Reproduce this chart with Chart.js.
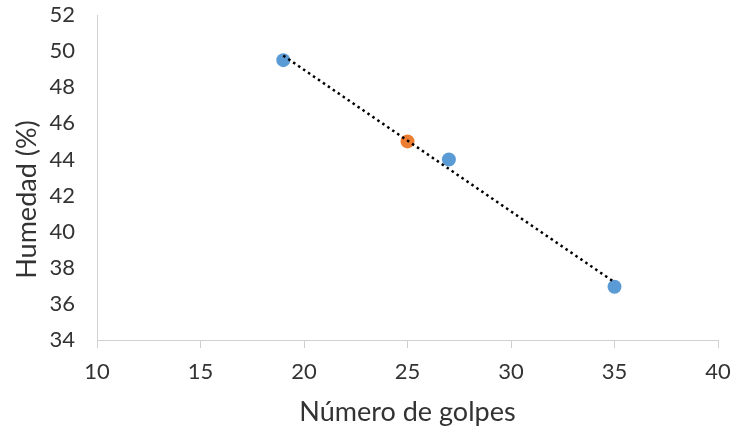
<!DOCTYPE html><html lang="es">
<head>
<meta charset="UTF-8">
<title>Humedad vs número de golpes</title>
<script src="https://cdn.jsdelivr.net/npm/chart.js"></script>
<style>
    html, body { margin: 0; padding: 0; background: white; }
    #box { width: 735px; height: 432px; }
</style>
</head>
<body>
<div id="box"><canvas id="chart"></canvas></div>
<script>
    // valores
    const golpesAzul = [19, 27, 35];
    const humedadAzul = [49.5, 44, 36.95];
    const golpesNaranja = [25];
    const humedadNaranja = [45];
    const golpesTendencia = [19, 35];
    const humedadTendencia = [49.75, 37.2];
    const ticksX = [10, 15, 20, 25, 30, 35, 40];
    const ticksY = [34, 36, 38, 40, 42, 44, 46, 48, 50, 52];
    const tituloY = "Humedad (%)";

    const toPoints = (xs, ys) => xs.map((x, i) => ({x: x, y: ys[i]}));
    const font = "Lato, 'Open Sans', sans-serif";
    const textColor = "#333";

    // el titulo del eje y en Excel queda algo por debajo del centro del area
    const yTitlePlugin = {
        id: "yTitle",
        afterDraw(chart) {
            const ctx = chart.ctx;
            const area = chart.chartArea;
            ctx.save();
            ctx.translate(27, (area.top + area.bottom) / 2 + 22);
            ctx.rotate(-Math.PI / 2);
            ctx.font = "27px " + font;
            ctx.fillStyle = textColor;
            ctx.textAlign = "center";
            ctx.textBaseline = "middle";
            ctx.fillText(tituloY, 0, 0);
            ctx.restore();
        }
    };

    new Chart(document.getElementById("chart"), {
        type: "scatter",
        data: {
            datasets: [
                {
                    data: toPoints(golpesTendencia, humedadTendencia),
                    showLine: true,
                    borderColor: "#000",
                    borderWidth: 2.5,
                    borderDash: [2.5, 3.5],
                    pointRadius: 0,
                    fill: false
                },
                {
                    data: toPoints(golpesNaranja, humedadNaranja),
                    backgroundColor: "#ED7D31",
                    pointRadius: 7,
                    pointBorderWidth: 0
                },
                {
                    data: toPoints(golpesAzul, humedadAzul),
                    backgroundColor: "#5B9BD5",
                    pointRadius: 7,
                    pointBorderWidth: 0
                }
            ]
        },
        plugins: [yTitlePlugin],
        options: {
            responsive: true,
            maintainAspectRatio: false,
            animation: false,
            layout: { padding: { top: 15, right: 17, left: 0, bottom: 0 } },
            plugins: { legend: { display: false }, tooltip: { enabled: false } },
            scales: {
                x: {
                    type: "linear",
                    min: 10, max: 40,
                    afterBuildTicks: s => { s.ticks = ticksX.map(v => ({value: v})); },
                    afterFit: s => { s.height = 92; s.paddingLeft = 0; s.paddingRight = 0; },
                    grid: { drawOnChartArea: false, drawTicks: true, tickLength: 8, color: "#d0d0d0" },
                    border: { color: "#d0d0d0", width: 1 },
                    ticks: { color: textColor, font: { family: font, size: 22 }, padding: 11 },
                    title: { display: true, text: "Número de golpes", color: textColor,
                             font: { family: font, size: 27 }, padding: { top: 4 } }
                },
                y: {
                    type: "linear",
                    min: 34, max: 52,
                    afterBuildTicks: s => { s.ticks = ticksY.map(v => ({value: v})); },
                    afterFit: s => { s.width = 97; s.paddingTop = 0; s.paddingBottom = 0; },
                    grid: { drawOnChartArea: false, drawTicks: false, color: "#d0d0d0" },
                    border: { color: "#d0d0d0", width: 1 },
                    ticks: { color: textColor, font: { family: font, size: 22 }, padding: 22 }
                }
            }
        }
    });
</script>
</body>
</html>
